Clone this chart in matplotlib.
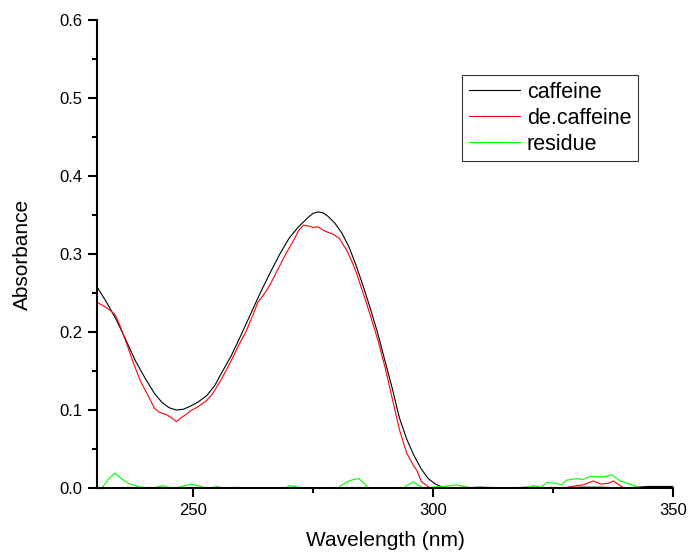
import matplotlib
matplotlib.use("Agg")
import matplotlib.pyplot as plt
from matplotlib.ticker import MultipleLocator, FormatStrFormatter

plt.rcParams['font.family'] = ['Liberation Sans', 'DejaVu Sans']

# caffeine spectrum (black)
caff_wl = [230.0, 232.0, 234.0, 236.0, 238.0, 240.0, 242.0, 243.5, 245.0, 246.5,
           248.0, 249.5, 251.0, 252.8, 254.5, 256.0, 258.0, 260.0, 262.0, 264.0,
           266.0, 268.0, 270.0, 272.0, 274.0, 275.0, 276.0, 277.0, 278.0, 279.5,
           281.0, 282.5, 284.0, 285.5, 287.0, 288.5, 290.0, 291.5, 293.0, 294.5,
           296.0, 297.5, 299.0, 300.5, 302.0, 305.0, 310.0, 315.0, 320.0, 325.0,
           330.0, 335.0, 340.0, 345.0, 350.0]
caff_abs = [0.258, 0.238, 0.216, 0.190, 0.163, 0.141, 0.121, 0.110, 0.103, 0.100,
            0.101, 0.105, 0.110, 0.118, 0.131, 0.148, 0.170, 0.196, 0.223, 0.250,
            0.275, 0.299, 0.320, 0.335, 0.347, 0.352, 0.354, 0.353, 0.349, 0.340,
            0.327, 0.309, 0.285, 0.258, 0.229, 0.198, 0.163, 0.128, 0.090, 0.063,
            0.042, 0.025, 0.012, 0.005, 0.001, 0.000, 0.001, 0.000, 0.001, 0.000,
            0.001, 0.001, 0.000, 0.002, 0.002]

# decaffeinated sample (red)
decaf_wl = [230.0, 231.5, 232.7, 233.8, 234.8, 236.0, 237.6, 239.0, 240.5, 242.0,
            243.0, 244.5, 245.5, 246.6, 247.5, 248.5, 249.5, 251.0, 252.8, 254.0,
            255.6, 257.0, 258.5, 259.5, 261.0, 262.5, 263.5, 264.5, 265.5, 266.5,
            268.0, 269.5, 271.0, 272.0, 273.0, 274.0, 275.0, 276.0, 277.0, 278.0,
            279.0, 280.5, 282.0, 283.0, 284.1, 285.0, 286.2, 287.5, 288.6, 290.0,
            291.5, 293.0, 294.5, 296.0, 296.6, 297.6, 299.0, 299.7, 305.0, 327.0,
            328.0, 330.0, 331.3, 333.4, 335.0, 336.5, 337.6, 339.7, 341.0, 350.0]
decaf_abs = [0.238, 0.233, 0.228, 0.222, 0.208, 0.188, 0.160, 0.138, 0.120, 0.102,
             0.097, 0.094, 0.090, 0.085, 0.090, 0.094, 0.099, 0.104, 0.112, 0.120,
             0.136, 0.152, 0.170, 0.183, 0.200, 0.222, 0.238, 0.246, 0.255, 0.266,
             0.284, 0.302, 0.318, 0.330, 0.337, 0.336, 0.334, 0.335, 0.331, 0.328,
             0.326, 0.320, 0.305, 0.292, 0.275, 0.258, 0.236, 0.210, 0.188, 0.155,
             0.115, 0.075, 0.045, 0.028, 0.023, 0.008, 0.002, -0.002, -0.003, -0.002,
             0.001, 0.003, 0.004, 0.009, 0.005, 0.006, 0.009, 0.000, -0.003, -0.003]

# residue (green)
res_wl = [230.5, 231.0, 232.5, 233.7, 234.5, 235.5, 236.5, 237.6, 238.5, 239.5,
          241.0, 242.5, 243.8, 244.8, 245.5, 246.5, 247.6, 249.7, 251.0, 252.5,
          254.0, 254.9, 256.0, 258.0, 259.4, 260.5, 269.0, 270.0, 271.5, 273.0,
          280.0, 281.0, 282.5, 283.5, 284.5, 285.5, 286.5, 287.5, 293.5, 294.5,
          295.9, 297.0, 298.0, 300.0, 302.0, 304.9, 306.5, 308.0, 309.0, 319.0,
          319.5, 320.9, 322.5, 323.7, 325.5, 326.8, 327.8, 329.9, 331.3, 332.7,
          334.8, 336.0, 337.2, 339.0, 341.0, 343.4, 344.5, 350.0]
res_abs = [-0.003, 0.000, 0.012, 0.019, 0.015, 0.010, 0.006, 0.004, 0.002, 0.001,
           0.000, 0.001, 0.003, 0.001, -0.001, 0.000, 0.002, 0.005, 0.003, 0.000,
           0.000, 0.002, 0.000, -0.002, 0.001, -0.002, -0.002, 0.003, 0.002, -0.002,
           -0.002, 0.004, 0.009, 0.011, 0.012, 0.007, 0.000, -0.003, -0.003, 0.003,
           0.008, 0.003, 0.000, 0.001, 0.002, 0.004, 0.002, 0.000, -0.003, -0.003,
           0.000, 0.003, 0.001, 0.007, 0.006, 0.004, 0.010, 0.012, 0.011, 0.015,
           0.014, 0.015, 0.017, 0.009, 0.005, 0.000, -0.003, -0.003]

fig = plt.figure(figsize=(6.88, 5.55), dpi=100)
ax = fig.add_axes([97 / 688, 67 / 555, 576 / 688, 468 / 555])

ax.plot(caff_wl, caff_abs, color='black', lw=0.8, label='caffeine')
ax.plot(decaf_wl, decaf_abs, color='#ff0000', lw=0.8, label='de.caffeine')
ax.plot(res_wl, res_abs, color='#00ff00', lw=0.8, label='residue')

ax.set_xlim(230, 350)
ax.set_ylim(0, 0.6)
ax.xaxis.set_major_locator(MultipleLocator(50))
ax.xaxis.set_minor_locator(MultipleLocator(25))
ax.yaxis.set_major_locator(MultipleLocator(0.1))
ax.yaxis.set_minor_locator(MultipleLocator(0.05))
ax.yaxis.set_major_formatter(FormatStrFormatter('%.1f'))

for side in ['top', 'right']:
    ax.spines[side].set_visible(False)
for side in ['left', 'bottom']:
    ax.spines[side].set_linewidth(1.5)

ax.tick_params(which='major', direction='out', length=6.5, width=1.5,
               labelsize=12, pad=4)
ax.tick_params(which='minor', direction='out', length=3.6, width=1.5)

ax.set_xlabel('Wavelength (nm)', fontsize=15, labelpad=9.5)
ax.set_ylabel('Absorbance', fontsize=15, labelpad=20)

leg = ax.legend(loc='upper left', bbox_to_anchor=(0.634, 0.882), fontsize=15.5,
                frameon=True, fancybox=False, framealpha=1, edgecolor='#333333',
                borderpad=0.3, handlelength=2.4, handletextpad=0.3,
                labelspacing=0.24, borderaxespad=0)
leg.get_frame().set_linewidth(0.8)

fig.savefig('out.png', dpi=100)
